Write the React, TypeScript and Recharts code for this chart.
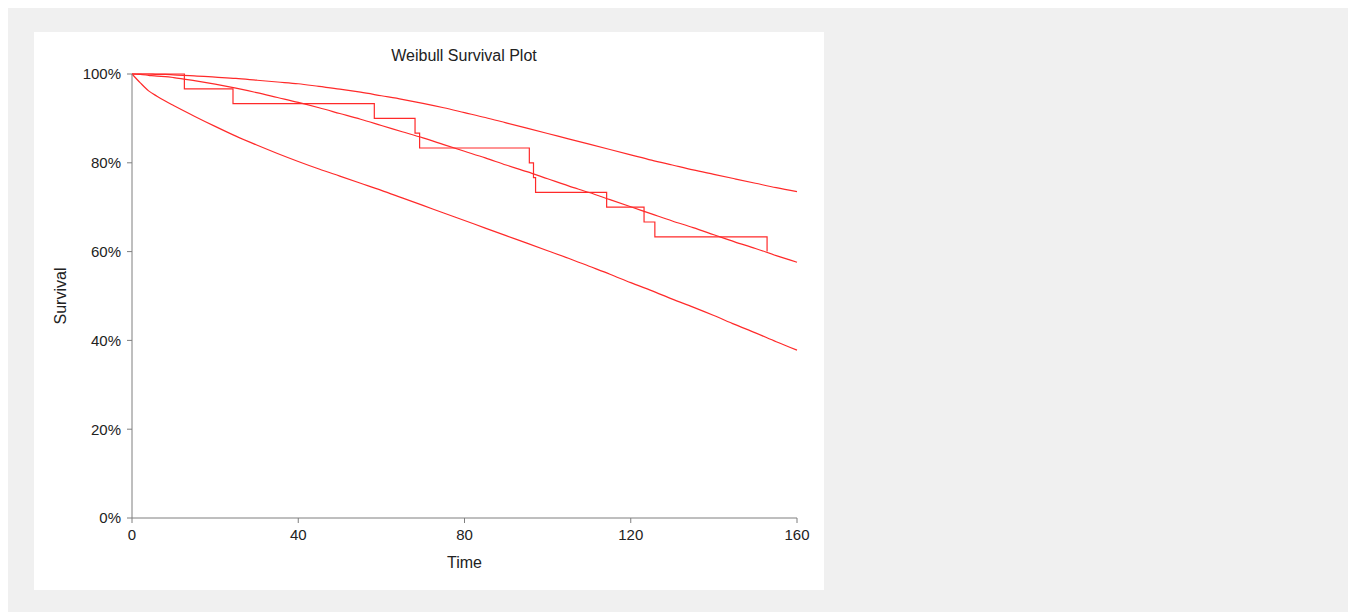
import { LineChart, Line, XAxis, YAxis, Label } from 'recharts';

// time grid used for the fitted curves
const curveTimes = [0, 2, 4, 6, 8, 10, 15, 20, 25, 30, 35, 40, 45, 50, 55, 60, 65, 70, 75, 80, 85, 90, 95, 100, 105, 110, 115, 120, 125, 130, 135, 140, 145, 150, 155, 160];

// Weibull fit (middle line)
const fitSurvival = [100, 99.9, 99.7, 99.5, 99.4, 99.2, 98.5, 97.7, 96.8, 95.8, 94.7, 93.6, 92.4, 91.1, 89.8, 88.4, 87.0, 85.6, 84.1, 82.6, 81.1, 79.5, 78.0, 76.4, 74.8, 73.3, 71.7, 70.1, 68.5, 66.9, 65.4, 63.8, 62.2, 60.7, 59.1, 57.6];

// upper confidence limit
const upperSurvival = [100, 100, 100, 99.9, 99.9, 99.8, 99.6, 99.3, 99.0, 98.6, 98.2, 97.8, 97.2, 96.6, 95.9, 95.1, 94.3, 93.4, 92.4, 91.3, 90.2, 89.0, 87.8, 86.6, 85.4, 84.2, 83.0, 81.8, 80.6, 79.5, 78.4, 77.4, 76.4, 75.4, 74.4, 73.5];

// lower confidence limit
const lowerSurvival = [100, 98.0, 96.2, 95.0, 93.9, 92.9, 90.5, 88.2, 86.0, 84.0, 82.1, 80.3, 78.6, 77.0, 75.4, 73.8, 72.1, 70.4, 68.7, 67.0, 65.3, 63.6, 61.9, 60.2, 58.5, 56.7, 54.9, 53.0, 51.2, 49.3, 47.5, 45.6, 43.6, 41.7, 39.7, 37.8];

// Kaplan-Meier steps
const kmTimes = [0, 12.6, 24.3, 58.3, 68.1, 69.2, 95.6, 96.6, 97.1, 114.2, 123.2, 125.8, 152.8];
const kmSurvival = [100, 96.67, 93.33, 90, 86.67, 83.33, 80, 76.67, 73.33, 70, 66.67, 63.33, 60];

const xTicks = [0, 40, 80, 120, 160];
const yTicks = [0, 20, 40, 60, 80, 100];

const fitData = curveTimes.map((t, i) => ({ t, s: fitSurvival[i] }));
const upperData = curveTimes.map((t, i) => ({ t, s: upperSurvival[i] }));
const lowerData = curveTimes.map((t, i) => ({ t, s: lowerSurvival[i] }));
const kmData = kmTimes.map((t, i) => ({ t, s: kmSurvival[i] }));

const font = 'Arial, "Liberation Sans", sans-serif';
const red = '#ff2a2a';

export default function App() {
    return (
        <div style={{ marginLeft: -2, width: 1350, height: 604, background: '#f0f0f0', position: 'relative', fontFamily: font }}>
            <div style={{ position: 'absolute', left: 28, top: 24, width: 790, height: 558, background: '#fff' }}>
                <div style={{ position: 'absolute', left: 97, width: 666, top: 15, textAlign: 'center', fontSize: 16, color: '#222' }}>
                    Weibull Survival Plot
                </div>
                <LineChart width={790} height={558} margin={{ top: 42, right: 27, bottom: 22, left: 38 }}>
                    <XAxis
                        type="number"
                        dataKey="t"
                        domain={[0, 160]}
                        ticks={xTicks}
                        allowDuplicatedCategory={false}
                        height={50}
                        stroke="#7f7f7f"
                        tickSize={5}
                        tick={{ fill: '#222', fontSize: 15, fontFamily: font, dy: 4 }}
                    >
                        <Label value="Time" position="insideBottom" offset={0} style={{ fill: '#222', fontSize: 16, fontFamily: font }} />
                    </XAxis>
                    <YAxis
                        type="number"
                        domain={[0, 100]}
                        ticks={yTicks}
                        width={60}
                        stroke="#7f7f7f"
                        tickSize={5}
                        tickFormatter={(v: number) => `${v}%`}
                        tick={{ fill: '#222', fontSize: 15, fontFamily: font, dx: -4 }}
                    >
                        <Label value="Survival" angle={-90} position="insideLeft" offset={-12} style={{ fill: '#222', fontSize: 16, fontFamily: font, textAnchor: 'middle' }} />
                    </YAxis>
                    <Line data={upperData} dataKey="s" type="monotone" stroke={red} strokeWidth={1.2} dot={false} isAnimationActive={false} />
                    <Line data={fitData} dataKey="s" type="monotone" stroke={red} strokeWidth={1.2} dot={false} isAnimationActive={false} />
                    <Line data={lowerData} dataKey="s" type="monotone" stroke={red} strokeWidth={1.2} dot={false} isAnimationActive={false} />
                    <Line data={kmData} dataKey="s" type="stepAfter" stroke={red} strokeWidth={1.2} dot={false} isAnimationActive={false} />
                </LineChart>
            </div>
        </div>
    );
}
